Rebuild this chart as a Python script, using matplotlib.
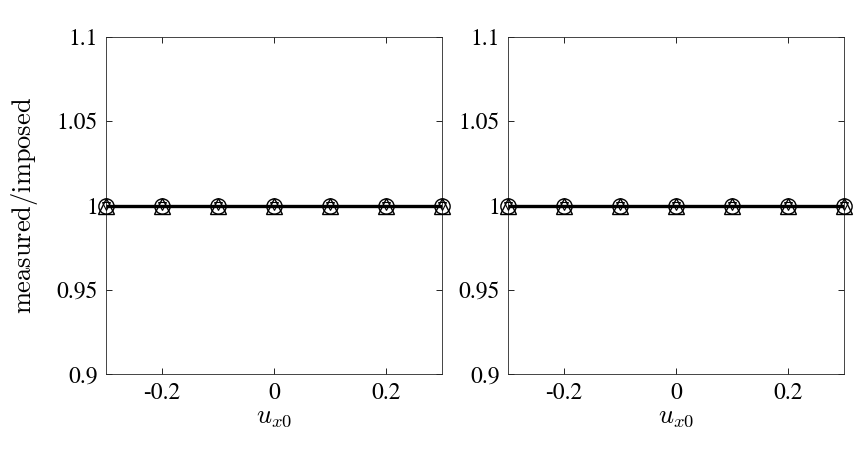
import numpy as np
import matplotlib
matplotlib.use("Agg")
import matplotlib.pyplot as plt

plt.rcParams["font.family"] = ["STIXGeneral", "Liberation Serif", "DejaVu Serif"]
plt.rcParams["mathtext.fontset"] = "cm"

ux0 = [-0.3, -0.2, -0.1, 0.0, 0.1, 0.2, 0.3]
ratio_a = [1, 1, 1, 1, 1, 1, 1]
ratio_b = [1, 1, 1, 1, 1, 1, 1]
ratio_c = [1, 1, 1, 1, 1, 1, 1]
xticks = [-0.2, 0, 0.2]
xticklabels = ["-0.2", "0", "0.2"]
yticks = [0.9, 0.95, 1.0, 1.05, 1.1]
yticklabels = ["0.9", "0.95", "1", "1.05", "1.1"]

W, H = 863, 454
fig = plt.figure(figsize=(W / 100, H / 100), dpi=100)
boxes = [(106, 37, 442, 374), (508, 37, 844, 374)]

for i, (x0, y0, x1, y1) in enumerate(boxes):
    ax = fig.add_axes([x0 / W, 1 - y1 / H, (x1 - x0) / W, (y1 - y0) / H])
    ax.plot(ux0, ratio_a, color="black", lw=2.4, zorder=2)
    ax.plot(ux0, ratio_a, ls="none", marker="o", ms=11, mfc="none",
            mec="black", mew=1.0, clip_on=False, zorder=3)
    ax.plot(ux0, ratio_b, ls="none", marker="^", ms=11, mfc="none",
            mec="black", mew=1.0, clip_on=False, zorder=3)
    ax.plot(ux0, ratio_c, ls="none", marker="v", ms=6, mfc="none",
            mec="black", mew=0.8, clip_on=False, zorder=3)
    ax.set_xlim(-0.3, 0.3)
    ax.set_ylim(0.9, 1.1)
    ax.set_xticks(xticks)
    ax.set_xticklabels(xticklabels)
    ax.set_yticks(yticks)
    ax.set_yticklabels(yticklabels)
    ax.tick_params(direction="in", top=True, right=True, labelsize=17,
                   length=4, width=0.6, pad=6)
    for s in ax.spines.values():
        s.set_linewidth(0.6)
        s.set_color("#262626")
    ax.set_xlabel(r"$u_{x0}$", fontsize=19, labelpad=1)
    if i == 0:
        ax.set_ylabel(r"$\mathrm{measured/imposed}$", fontsize=19, labelpad=12)

fig.savefig("out.png", dpi=100)
